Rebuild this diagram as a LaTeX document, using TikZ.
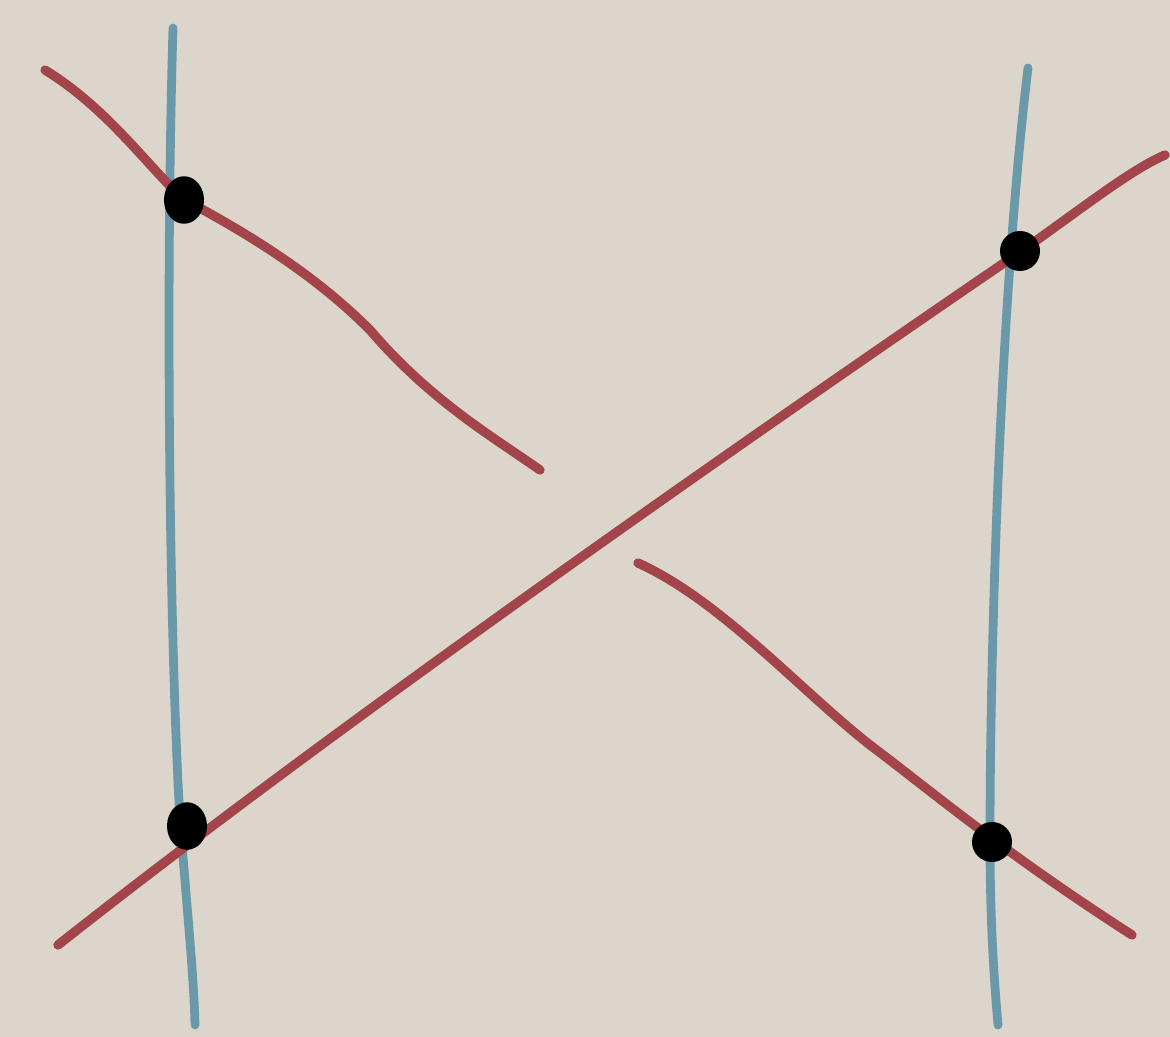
\documentclass[tikz,border=0pt]{standalone}
\usepackage{xcolor}
\usepackage{tikz}
\usetikzlibrary{positioning, shapes.geometric}
\definecolor{paper}{HTML}{DCD5CC}
\definecolor{wireblue}{HTML}{6A9AAA}
\definecolor{strandred}{HTML}{A3444A}

\begin{document}
\begin{tikzpicture}[
    x=0.02cm, y=-0.02cm,
    wire/.style={draw=wireblue, line width=5pt, line cap=round},
    strand/.style={draw=strandred, line width=5.3pt, line cap=round},
    knot/.style={ellipse, fill=black, inner sep=0pt, minimum width=0.8cm, minimum height=0.95cm},
]
% Background paper
\fill[paper] (0,0) rectangle (1170,1037);
\useasboundingbox (0,0) rectangle (1170,1037);

% Vertical wires
\draw[wire] (173,28) .. controls (165,300) and (170,650) .. (180,820) .. controls (188,920) and (194,980) .. (195,1025);
\draw[wire] (1028,68) .. controls (1000,300) and (990,650) .. (990,840) .. controls (990,930) and (995,990) .. (998,1025);

% Over strand
\draw[strand] (58,945) .. controls (330,730) and (730,450) .. (1020,252) .. controls (1080,210) and (1130,170) .. (1165,155);

% Under strand (broken)
\draw[strand] (45,70) .. controls (110,110) and (150,170) .. (185,200) .. controls (260,240) and (320,280) .. (370,330) .. controls (430,400) and (490,435) .. (540,470);
\draw[strand] (638,563) .. controls (720,600) and (800,690) .. (870,745) .. controls (930,790) and (1000,850) .. (1132,935);

% Contact points
\node[knot] (tl) at (184,200) {};
\node[knot, minimum height=0.8cm] (tr) at (1020,251) {};
\node[knot] (bl) at (187,826) {};
\node[knot, minimum height=0.8cm] (br) at (992,842) {};
\end{tikzpicture}
\end{document}
